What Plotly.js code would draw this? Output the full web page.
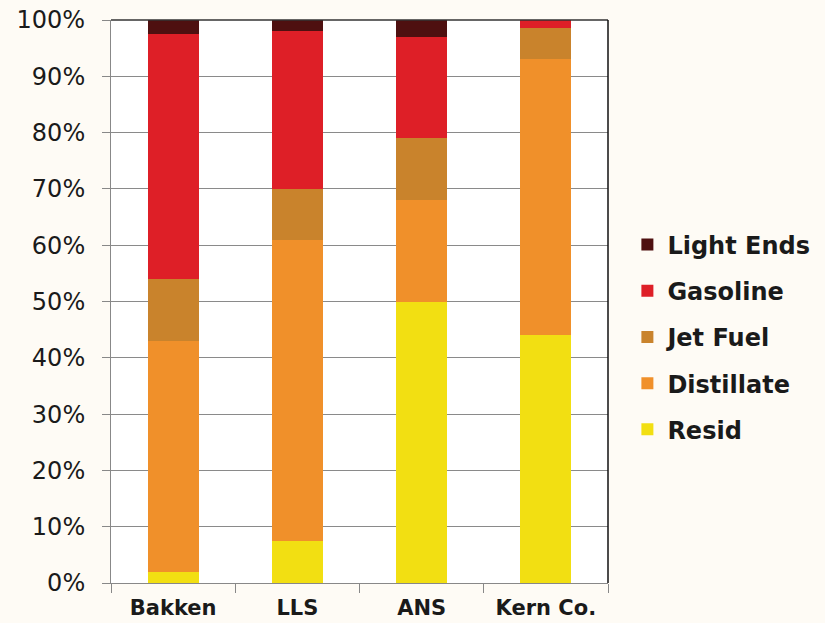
<!DOCTYPE html>
<html>
<head>
<meta charset="utf-8">
<script src="https://cdn.plot.ly/plotly-3.0.1.min.js"></script>
<style>
  html, body { margin: 0; padding: 0; background: #fefbf5; }
  #chart { width: 825px; height: 623px; }
</style>
</head>
<body>
<div id="chart"></div>
<script>
const crudes = ["Bakken", "LLS", "ANS", "Kern Co."];
const resid      = [2,   7.5, 50, 44];
const distillate = [41, 53.5, 18, 49];
const jetFuel    = [11,  9,   11, 5.5];
const gasoline   = [43.5, 28, 18, 1.5];
const lightEnds  = [2.5, 2,   3,  0];

const seriesNames = ["Resid", "Distillate", "Jet Fuel", "Gasoline", "Light Ends"];
const seriesValues = [resid, distillate, jetFuel, gasoline, lightEnds];
const seriesColors = ["#f2df12", "#f0902a", "#c9832c", "#de1f27", "#4e1010"];

const traces = seriesNames.map((name, i) => ({
  type: "bar",
  name: name,
  x: crudes,
  y: seriesValues[i],
  legendgroup: name,
  legendrank: 1000 - i,
  marker: { color: seriesColors[i], line: { width: 0 } },
  hoverinfo: "x+y+name"
}));

const layout = {
  width: 825,
  height: 623,
  margin: { l: 111, r: 217, t: 20, b: 40, autoexpand: false },
  paper_bgcolor: "#fefbf5",
  plot_bgcolor: "#ffffff",
  barmode: "stack",
  bargap: 0.59,
  showlegend: true,
  legend: {
    x: 1.039, y: 0.437, xanchor: "left", yanchor: "middle",
    traceorder: "grouped",
    tracegroupgap: 12,
    font: { family: "DejaVu Sans, sans-serif", size: 24, color: "#1a1a1a", weight: "bold" },
    bgcolor: "rgba(0,0,0,0)",
    itemwidth: 30
  },
  xaxis: {
    type: "category",
    tickson: "boundaries",
    ticks: "outside",
    ticklen: 9,
    tickcolor: "#888888",
    showline: true,
    linecolor: "#888888",
    linewidth: 1,
    showgrid: false,
    ticklabelstandoff: 6,
    tickfont: { family: "DejaVu Sans, sans-serif", size: 21, color: "#1a1a1a", weight: "bold" },
    fixedrange: true
  },
  yaxis: {
    range: [0, 100],
    dtick: 10,
    ticksuffix: "%",
    ticks: "outside",
    ticklen: 8,
    tickcolor: "#888888",
    showline: true,
    linecolor: "#888888",
    showgrid: true,
    gridcolor: "#8a8a8a",
    gridwidth: 1,
    zeroline: false,
    ticklabelstandoff: 12,
    tickfont: { family: "DejaVu Sans, sans-serif", size: 24, color: "#1a1a1a" },
    fixedrange: true
  },
  shapes: [
    { type: "line", xref: "paper", yref: "paper", x0: 0, x1: 1, y0: 1, y1: 1, line: { color: "#333333", width: 1.5 } },
    { type: "line", xref: "paper", yref: "paper", x0: 1, x1: 1, y0: 0, y1: 1, line: { color: "#111111", width: 1.5 } }
  ]
};

Plotly.newPlot("chart", traces, layout, { displayModeBar: false, staticPlot: true });
</script>
</body>
</html>
